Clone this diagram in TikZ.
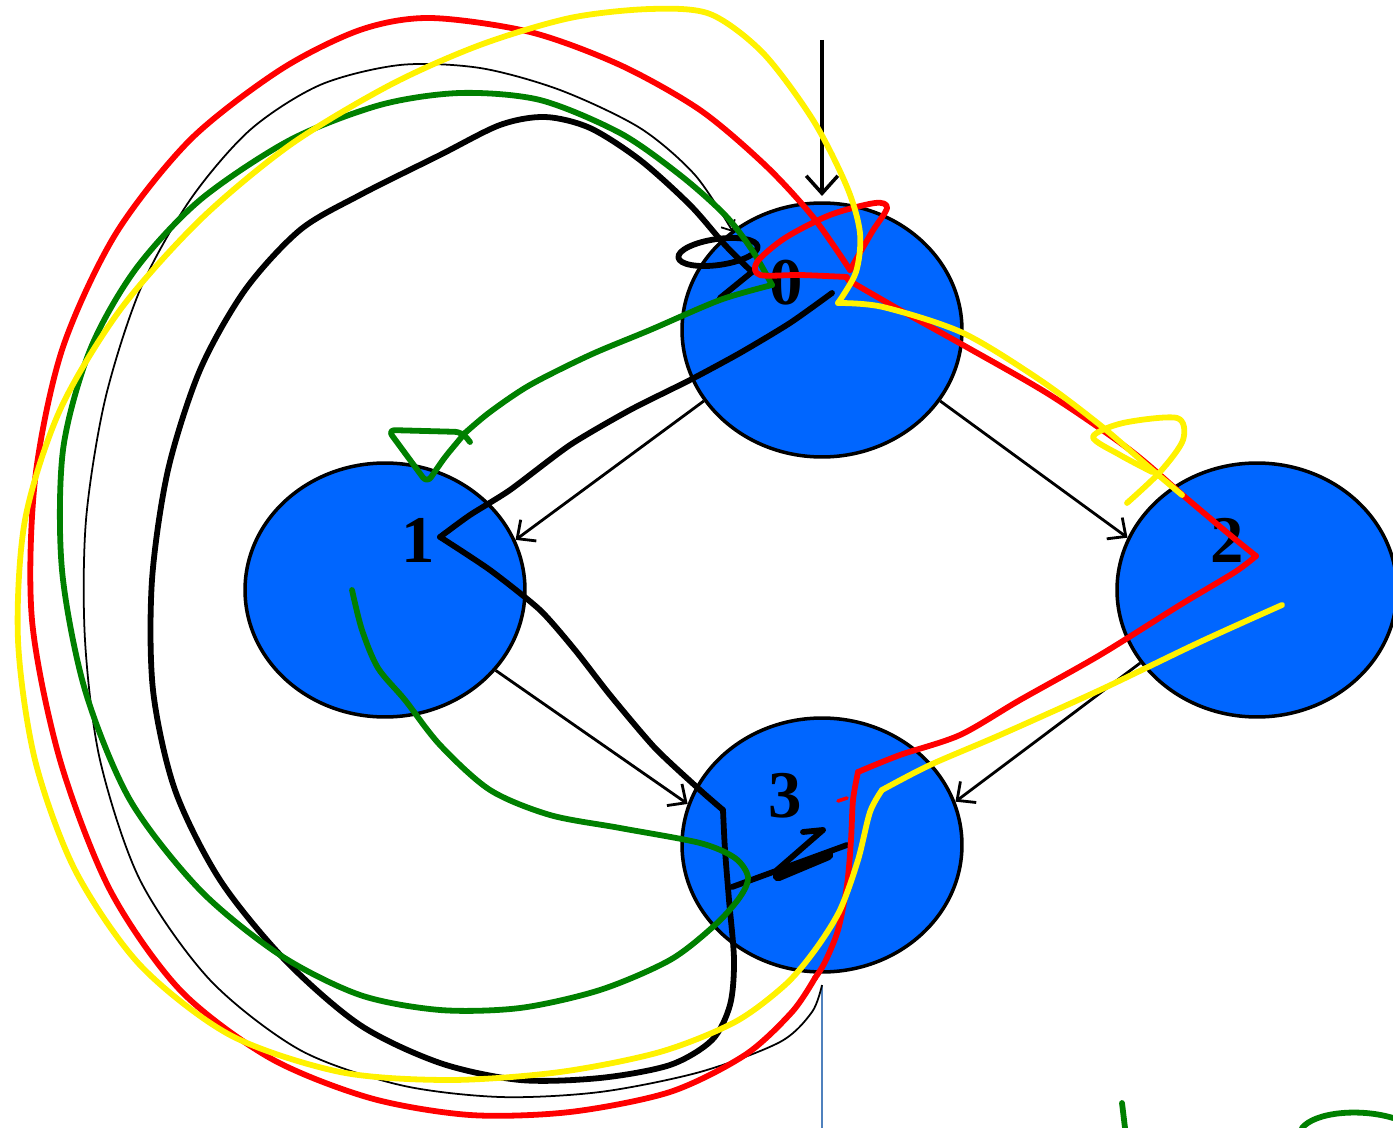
\documentclass[tikz,border=0pt]{standalone}
\usepackage{fontspec}
\setmainfont{Liberation Serif}
\usetikzlibrary{shapes.geometric,arrows.meta}

\begin{document}
\begin{tikzpicture}[x=0.02cm,y=-0.02cm,
    state/.style={ellipse,draw,line width=2pt,fill={rgb,255:red,0;green,102;blue,255},
        minimum width=5.6cm,minimum height=5.08cm,inner sep=0pt},
    num/.style={font=\fontsize{38}{40}\selectfont\bfseries,inner sep=0pt},
    edge/.style={line width=1.6pt,-{Straight Barb[length=8pt,width=15pt,line width=1.6pt]}},
    pen/.style={line width=3.3pt,line cap=round,line join=round},
    smooth pen/.style={pen,smooth,tension=0.5}]
    \useasboundingbox (0,0) rectangle (1393,1128);
    %% states
    \node[state] (n0) at (822,330) {};
    \node[state] (n1) at (385,590) {};
    \node[state] (n2) at (1257,590) {};
    \node[state] (n3) at (822,845) {};
    \node[num] (l0) at (786,283) {0};
    \node[num] (l1) at (418,540) {1};
    \node[num] (l2) at (1227,540) {2};
    \node[num] (l3) at (785,796) {3};
    %% transitions
    \coordinate (in) at (822,40);
    \draw[line width=2pt,-{Straight Barb[length=10pt,width=18pt,line width=2pt]}] (in) -- ([yshift=3pt]n0.north);
    \draw[edge] (n0.211) -- (n1.21);
    \draw[edge] (n0.329) -- (n2.158);
    \draw[edge] (n1.324) -- (n3.163);
    \draw[edge] (n2.212) -- (n3.18);
    \draw[line width=0.9pt,color={rgb,255:red,79;green,129;blue,189}] (822,985) -- (822,1128);
    %% thin black run
    \draw[line width=1pt,-{Straight Barb[length=5pt,width=9pt]}] plot[smooth,tension=0.5] coordinates {(822,985) (812,1012) (780,1042) (700,1072) (600,1092) (500,1097) (400,1085) (300,1050) (210,980) (140,880) (100,760) (85,640) (86,520) (105,400) (140,290) (190,200) (250,130) (320,85) (400,65) (480,68) (560,90) (640,128) (695,175) (733,232)};
    %% thick black run
    \draw[pen] plot[smooth,tension=0.4] coordinates {(832,293) (790,323) (740,353) (690,380) (630,410) (570,445) (510,490) (470,515) (440,537)};
    \draw[pen] plot[smooth,tension=0.4] coordinates {(440,537) (490,570) (540,610) (575,650) (610,695) (655,748) (700,790) (723,810)};
    \draw[smooth pen] plot coordinates {(723,810) (725,850) (729,900) (734,960) (730,1005) (712,1040) (670,1065) (600,1078) (520,1080) (440,1063) (360,1025) (285,960) (220,880) (175,790) (153,690) (152,580) (168,470) (200,370) (245,290) (300,230) (360,195) (440,155) (500,125) (545,117) (590,128) (640,160) (690,205) (725,245) (752,272)};
    \draw[pen] (752,272) -- (720,298);
    \draw[pen] (718,252) ellipse [x radius=40,y radius=13,rotate=8];
    \draw[pen] (732,887) -- (847,845);
    \draw[pen,line width=6pt] (778,876) -- (828,855);
    \draw[pen] (777,870) -- (823,830) -- (803,832);
    %% green run
    \draw[smooth pen,green!50!black] plot coordinates {(352,590) (362,630) (378,668) (405,700) (440,745) (490,790) (550,815) (620,828) (700,843) (735,858) (748,877) (740,897) (715,925) (670,960) (600,990) (520,1008) (440,1010) (360,995) (280,955) (200,890) (130,800) (85,690) (62,570) (63,450) (90,350) (135,270) (200,200) (290,140) (380,105) (460,93) (540,100) (620,133) (680,175) (725,215) (752,250) (772,285)};
    \draw[smooth pen,green!50!black] plot coordinates {(772,285) (720,300) (650,330) (590,355) (530,385) (490,412) (465,433)};
    \draw[pen,green!50!black,rounded corners=4pt] (465,433) -- (445,457) -- (427,483) -- (388,430) -- (462,432) -- (470,442);
    \draw[pen,green!50!black] (1122,1103) -- (1125,1128);
    \draw[pen,green!50!black] (1302,1128) .. controls (1315,1112) and (1360,1108) .. (1393,1118);
    %% red run
    \draw[smooth pen,red] plot coordinates {(815,978) (792,1012) (745,1055) (670,1092) (570,1112) (470,1115) (370,1098) (270,1058) (180,990) (110,890) (60,760) (32,620) (35,480) (62,350) (115,235) (190,140) (280,70) (360,30) (430,18) (530,32) (620,65) (700,110) (765,165) (813,217) (850,270)};
    \draw[smooth pen,red] plot coordinates {(848,280) (900,310) (963,345) (1050,395) (1130,450) (1185,497) (1230,535) (1256,556)};
    \draw[smooth pen,red] plot coordinates {(1256,556) (1235,572) (1180,605) (1100,655) (1020,700) (960,735) (900,755) (858,772)};
    \draw[smooth pen,red] plot coordinates {(858,772) (853,800) (851,840) (847,885) (838,930) (825,962) (815,978)};
    \draw[smooth pen,red] plot coordinates {(850,270) (872,232) (887,208) (875,203) (830,215) (785,238) (757,262) (760,275) (800,275) (847,277)};
    \draw[pen,red,line width=2pt] (838,801) -- (847,798);
    %% yellow run
    \draw[smooth pen,yellow] plot coordinates {(1282,605) (1200,642) (1100,690) (1000,735) (930,765) (882,790)};
    \draw[smooth pen,yellow] plot coordinates {(882,790) (870,812) (858,860) (840,910) (815,950) (785,985) (735,1022) (660,1052) (560,1072) (450,1080) (340,1072) (230,1035) (140,965) (75,870) (35,760) (18,640) (25,520) (60,410) (120,310) (200,220) (290,145) (390,85) (480,45) (570,18) (650,9) (710,14) (763,53) (813,120) (847,187) (860,233) (856,272) (838,303)};
    \draw[smooth pen,yellow] plot coordinates {(838,303) (883,307) (963,333) (1040,380) (1100,425) (1150,468) (1182,495)};
    \draw[smooth pen,yellow] plot coordinates {(1127,503) (1160,472) (1183,440) (1177,418) (1123,423) (1093,437) (1120,455) (1152,472)};
\end{tikzpicture}
\end{document}
